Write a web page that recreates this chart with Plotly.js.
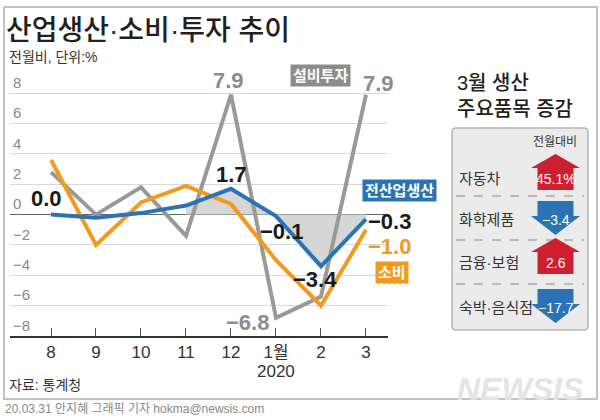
<!DOCTYPE html>
<html><head><meta charset="utf-8">
<script src="https://cdn.plot.ly/plotly-3.0.1.min.js"></script>
<style>html,body{margin:0;padding:0;background:#fff}#chart{width:600px;height:420px}</style>
</head><body><div id="chart"></div>
<script>
const months = ['8','9','10','11','12','1월','2','3'];
const investment = [2.8, 0.0, 1.8, -1.4, 7.9, -6.8, -5.4, 7.9];
const consumption = [3.6, -2.0, 0.8, 1.9, 0.7, -3.0, -6.0, -1.0];
const production = [0.0, -0.2, 0.1, 0.6, 1.7, -0.1, -3.4, -0.3];
const yTicks = [-8, -6, -4, -2, 0, 2, 4, 6, 8];
const items = ['자동차', '화학제품', '금융·보험', '숙박·음식점'];
const itemChanges = [45.1, -3.4, 2.6, -17.7];
const itemLabels = ['45.1%', '−3.4', '2.6', '−17.7'];

const NARROW = '"Liberation Sans Narrow", "Liberation Sans", "Noto Sans CJK KR", sans-serif';
const KR = '"Liberation Sans", "Noto Sans CJK KR", sans-serif';
const GRAY = '#999999', ORANGE = '#f39a1e', BLUE = '#2a74b5', RED = '#cc1f2f';
const px = x => x / 600, py = y => 1 - y / 420;

const traces = [
  {x: months.slice(3), y: production.slice(3), type: 'scatter', mode: 'lines',
   line: {width: 0, color: 'rgba(0,0,0,0)'}, fill: 'tozeroy', fillcolor: '#d6d6d6', hoverinfo: 'skip'},
  {x: months, y: investment, type: 'scatter', mode: 'lines', line: {color: GRAY, width: 4}, name: '설비투자'},
  {x: months, y: consumption, type: 'scatter', mode: 'lines', line: {color: ORANGE, width: 4}, name: '소비'},
  {x: months, y: production, type: 'scatter', mode: 'lines', line: {color: BLUE, width: 4}, name: '전산업생산'}
];

function valLabel(i, series, text, color, xs, ys) {
  return {x: i, y: series[i], xref: 'x', yref: 'y', text: text, showarrow: false,
    xanchor: 'center', yanchor: 'middle',
    xshift: xs, yshift: ys, font: {family: NARROW, size: 22, color: color, weight: 'bold'}};
}
function pa(x, y, text, font, xanchor, extra) {
  return Object.assign({x: px(x), y: py(y), xref: 'paper', yref: 'paper', text: text, showarrow: false,
    xanchor: xanchor || 'center', yanchor: 'middle', font: font}, extra || {});
}
const annotations = [
  valLabel(0, production, '0.0', '#1a1a1a', -5, 16),
  valLabel(4, production, '1.7', '#1a1a1a', 1, 14),
  valLabel(5, production, '−0.1', '#1a1a1a', 6, -15),
  valLabel(6, production, '−3.4', '#1a1a1a', -6, -13),
  valLabel(7, production, '−0.3', '#1a1a1a', 24, -2),
  valLabel(7, consumption, '−1.0', ORANGE, 24, -17),
  valLabel(4, investment, '7.9', '#8c8c8c', -2, 14),
  valLabel(7, investment, '7.9', '#8c8c8c', 13, 11),
  valLabel(5, investment, '−6.8', '#8c8c8c', -28, -5),
  pa(320, 75, '설비투자', {family: KR, size: 15, color: '#fff', weight: 'bold'}, 'center', {bgcolor: '#8c8c8c', borderpad: 2}),
  pa(399, 191, '전산업생산', {family: KR, size: 15, color: '#fff', weight: 'bold'}, 'center', {bgcolor: BLUE, borderpad: 2}),
  pa(392, 272, '소비', {family: KR, size: 15, color: '#fff', weight: 'bold'}, 'center', {bgcolor: ORANGE, borderpad: 2}),
  pa(7, 57, '전월비, 단위:%', {family: KR, size: 14, color: '#333'}, 'left'),
  {x: 5, y: py(371), xref: 'x', yref: 'paper', text: '2020', showarrow: false, xanchor: 'center', yanchor: 'middle',
   font: {family: NARROW, size: 17, color: '#333'}},
  pa(7, 385, '자료: 통계청', {family: KR, size: 14, color: '#333'}, 'left'),
  pa(3, 409, '20.03.31 안지혜 그래픽 기자 hokma@newsis.com', {family: KR, size: 12, color: '#888'}, 'left'),
  pa(520, 389, 'NEWSIS', {family: NARROW, size: 32, color: '#e4e4e4', weight: 'bold', style: 'italic'}),
  pa(455, 83, '3월 생산', {family: KR, size: 20, color: '#231f20', weight: 500}, 'left'),
  pa(455, 109, '주요품목 증감', {family: KR, size: 20, color: '#231f20', weight: 500}, 'left'),
  pa(555, 142, '전월대비', {family: KR, size: 12, color: '#333'})
];

const shapes = [
  {type: 'rect', xref: 'paper', yref: 'paper', x0: px(4), x1: px(597), y0: py(7), y1: py(399),
   line: {color: '#b0b0b0', width: 1.5}, layer: 'below'},
  {type: 'path', xref: 'paper', yref: 'paper', layer: 'below',
   path: `M ${px(456)},${py(128)} L ${px(584)},${py(128)} Q ${px(588)},${py(128)} ${px(588)},${py(132)} L ${px(588)},${py(326)} Q ${px(588)},${py(330)} ${px(584)},${py(330)} L ${px(456)},${py(330)} Q ${px(452)},${py(330)} ${px(452)},${py(326)} L ${px(452)},${py(132)} Q ${px(452)},${py(128)} ${px(456)},${py(128)} Z`,
   fillcolor: '#ebebeb', line: {color: '#b5b5b5', width: 1.5}}
];

const rowCenters = [178, 219, 262, 307];
const cx = 555.5, hw = 24.5, sw = 18;
items.forEach((name, i) => {
  const c = rowCenters[i];
  annotations.push(pa(457, c, name, {family: KR, size: 15, color: '#333'}, 'left'));
  let path;
  if (itemChanges[i] >= 0) {
    const apex = c - 24, base = c - 10, bottom = c + 12;
    path = `M ${px(cx)},${py(apex)} L ${px(cx + hw)},${py(base)} L ${px(cx + sw)},${py(base)} L ${px(cx + sw)},${py(bottom)} L ${px(cx - sw)},${py(bottom)} L ${px(cx - sw)},${py(base)} L ${px(cx - hw)},${py(base)} Z`;
  } else {
    const top = c - 18, base = c - 3, apex = c + 16;
    path = `M ${px(cx - sw)},${py(top)} L ${px(cx + sw)},${py(top)} L ${px(cx + sw)},${py(base)} L ${px(cx + hw)},${py(base)} L ${px(cx)},${py(apex)} L ${px(cx - hw)},${py(base)} L ${px(cx - sw)},${py(base)} Z`;
  }
  shapes.push({type: 'path', xref: 'paper', yref: 'paper', path: path,
    fillcolor: itemChanges[i] >= 0 ? RED : BLUE, line: {width: 0}});
  annotations.push(pa(cx, c + 1, itemLabels[i], {family: NARROW, size: 14, color: '#fff'}));
  if (i < items.length - 1) {
    const dy = [196, 240, 284][i];
    shapes.push({type: 'line', xref: 'paper', yref: 'paper', x0: px(456), x1: px(584), y0: py(dy), y1: py(dy),
      line: {color: '#8a8a8a', width: 1, dash: 'dash'}});
  }
});

const layout = {
  width: 600, height: 420, autosize: false,
  margin: {l: 0, r: 0, t: 0, b: 0},
  paper_bgcolor: '#fff', plot_bgcolor: 'rgba(0,0,0,0)',
  showlegend: false,
  title: {text: '산업생산·소비·투자 추이', x: px(6), xanchor: 'left', y: py(30), yanchor: 'middle',
    font: {family: KR, size: 28, color: '#231f20', weight: 500}},
  xaxis: {type: 'category', categoryorder: 'array', categoryarray: months,
    domain: [px(10), px(388)], range: [-0.911, 7.489], showgrid: false, zeroline: false,
    showline: true, linecolor: '#333', linewidth: 1.5, ticks: 'inside', ticklen: 8, tickcolor: '#555', tickwidth: 1,
    tickfont: {family: NARROW, size: 17, color: '#333'}, fixedrange: true},
  yaxis: {domain: [1 - 336 / 420, 1 - 72 / 420], range: [-8, 9.4], tickvals: yTicks,
    showgrid: true, gridcolor: '#d9d9d9', gridwidth: 1, zeroline: true, zerolinecolor: '#666', zerolinewidth: 1.5,
    ticklabelposition: 'inside top', ticks: '', showline: false,
    tickfont: {family: NARROW, size: 15, color: '#888'}, fixedrange: true},
  annotations: annotations,
  shapes: shapes
};

Plotly.newPlot('chart', traces, layout, {displayModeBar: false, staticPlot: true});
</script></body></html>
